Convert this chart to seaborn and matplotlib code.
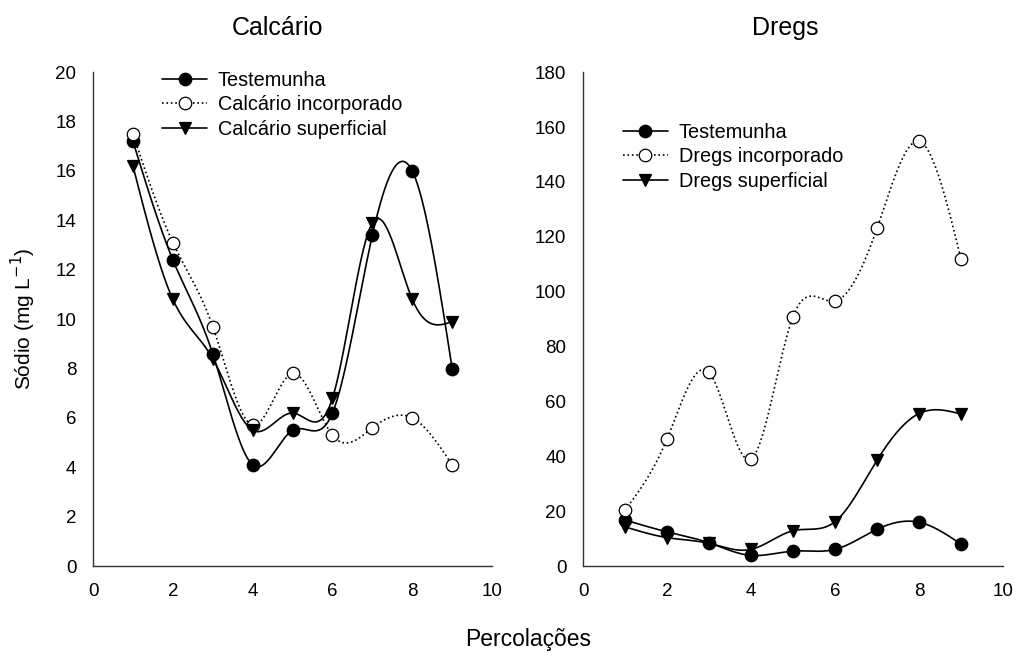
import numpy as np
import pandas as pd
import matplotlib
matplotlib.use("Agg")
import matplotlib.pyplot as plt
import seaborn as sns

# Dados
percolacoes = [1, 2, 3, 4, 5, 6, 7, 8, 9]

calc_testemunha = [17.2, 12.4, 8.6, 4.1, 5.5, 6.2, 13.4, 16.0, 8.0]
calc_incorporado = [17.5, 13.1, 9.7, 5.7, 7.8, 5.3, 5.6, 6.0, 4.1]
calc_superficial = [16.2, 10.8, 8.4, 5.5, 6.2, 6.8, 13.9, 10.8, 9.9]

dregs_testemunha = [16.8, 12.5, 8.5, 3.9, 5.5, 6.1, 13.4, 16.0, 8.0]
dregs_incorporado = [20.4, 46.3, 70.6, 39.0, 90.9, 96.6, 123.1, 154.8, 111.8]
dregs_superficial = [14.3, 10.4, 8.3, 6.1, 12.9, 16.2, 38.6, 55.6, 55.4]


def spline_natural(x, y, n=300):
    """Spline cubica natural so para desenhar a curva suave entre os pontos."""
    x = np.asarray(x, float)
    y = np.asarray(y, float)
    k = len(x)
    h = np.diff(x)
    A = np.zeros((k, k))
    b = np.zeros(k)
    A[0, 0] = A[-1, -1] = 1
    for i in range(1, k - 1):
        A[i, i - 1] = h[i - 1]
        A[i, i] = 2 * (h[i - 1] + h[i])
        A[i, i + 1] = h[i]
        b[i] = 6 * ((y[i + 1] - y[i]) / h[i] - (y[i] - y[i - 1]) / h[i - 1])
    M = np.linalg.solve(A, b)
    xs = np.linspace(x[0], x[-1], n)
    idx = np.clip(np.searchsorted(x, xs) - 1, 0, k - 2)
    x0, x1 = x[idx], x[idx + 1]
    hh = x1 - x0
    ys = (M[idx] * (x1 - xs) ** 3 / (6 * hh) + M[idx + 1] * (xs - x0) ** 3 / (6 * hh)
          + (y[idx] / hh - M[idx] * hh / 6) * (x1 - xs)
          + (y[idx + 1] / hh - M[idx + 1] * hh / 6) * (xs - x0))
    return xs, ys


def painel(ax, series, titulo, ymax, ystep, titulo_x):
    estilos = [
        dict(ls='-', marker='o', mfc='black'),
        dict(ls=':', marker='o', mfc='white'),
        dict(ls='-', marker='v', mfc='black'),
    ]
    for (nome, valores), est in zip(series, estilos):
        xs, ys = spline_natural(percolacoes, valores)
        curva = pd.DataFrame({'x': xs, 'y': ys})
        sns.lineplot(data=curva, x='x', y='y', ax=ax, color='black',
                     linestyle=est['ls'], linewidth=1.2)
        ax.plot(percolacoes, valores, linestyle='none', marker=est['marker'],
                markersize=9, markerfacecolor=est['mfc'], markeredgecolor='black',
                markeredgewidth=0.9)
        # entrada da legenda
        ax.plot([], [], color='black', linestyle=est['ls'], linewidth=1.2,
                marker=est['marker'], markersize=9, markerfacecolor=est['mfc'],
                markeredgecolor='black', markeredgewidth=0.9, label=nome)
    ax.set_xlim(0, 10)
    ax.set_ylim(0, ymax)
    ax.set_xticks(range(0, 11, 2))
    ax.set_yticks(np.arange(0, ymax + 0.1, ystep))
    ax.set_xlabel('')
    ax.set_ylabel('')
    ax.set_title(titulo, fontsize=18, x=titulo_x, y=1.0, pad=27)
    for s in ['top', 'right']:
        ax.spines[s].set_visible(False)
    for s in ['left', 'bottom']:
        ax.spines[s].set_color('#333333')
        ax.spines[s].set_linewidth(1.0)
    ax.tick_params(direction='out', length=5, width=1.0, color='#333333',
                   labelcolor='black', labelsize=13.5, pad=7)
    ax.grid(False)


sns.set_theme(style='white')
plt.rcParams['font.family'] = ['Liberation Sans', 'DejaVu Sans']
plt.rcParams['text.color'] = 'black'
plt.rcParams['axes.labelcolor'] = 'black'

fig = plt.figure(figsize=(10.18, 6.56), dpi=100)
ax1 = fig.add_axes([0.0914, 0.137, 0.392, 0.753])
ax2 = fig.add_axes([0.5727, 0.137, 0.4126, 0.753])

painel(ax1, [('Testemunha', calc_testemunha),
             ('Calcário incorporado', calc_incorporado),
             ('Calcário superficial', calc_superficial)], 'Calcário', 20, 2, 0.461)
painel(ax2, [('Testemunha', dregs_testemunha),
             ('Dregs incorporado', dregs_incorporado),
             ('Dregs superficial', dregs_superficial)], 'Dregs', 180, 20, 0.482)

leg_kw = dict(frameon=False, fontsize=14.3, handlelength=2.26, labelspacing=0.28,
              handletextpad=0.55, borderpad=0, borderaxespad=0)
ax1.legend(loc='upper left', bbox_to_anchor=(0.173, 1.003), **leg_kw)
ax2.legend(loc='upper left', bbox_to_anchor=(0.095, 0.898), **leg_kw)

fig.text(0.0226, 0.514, 'Sódio (mg L$^{-1}$)', rotation=90, ha='center',
         va='center', fontsize=15)
fig.text(0.519, 0.0244, 'Percolações', ha='center', va='center', fontsize=16.5)

fig.savefig('out.png', dpi=100)
